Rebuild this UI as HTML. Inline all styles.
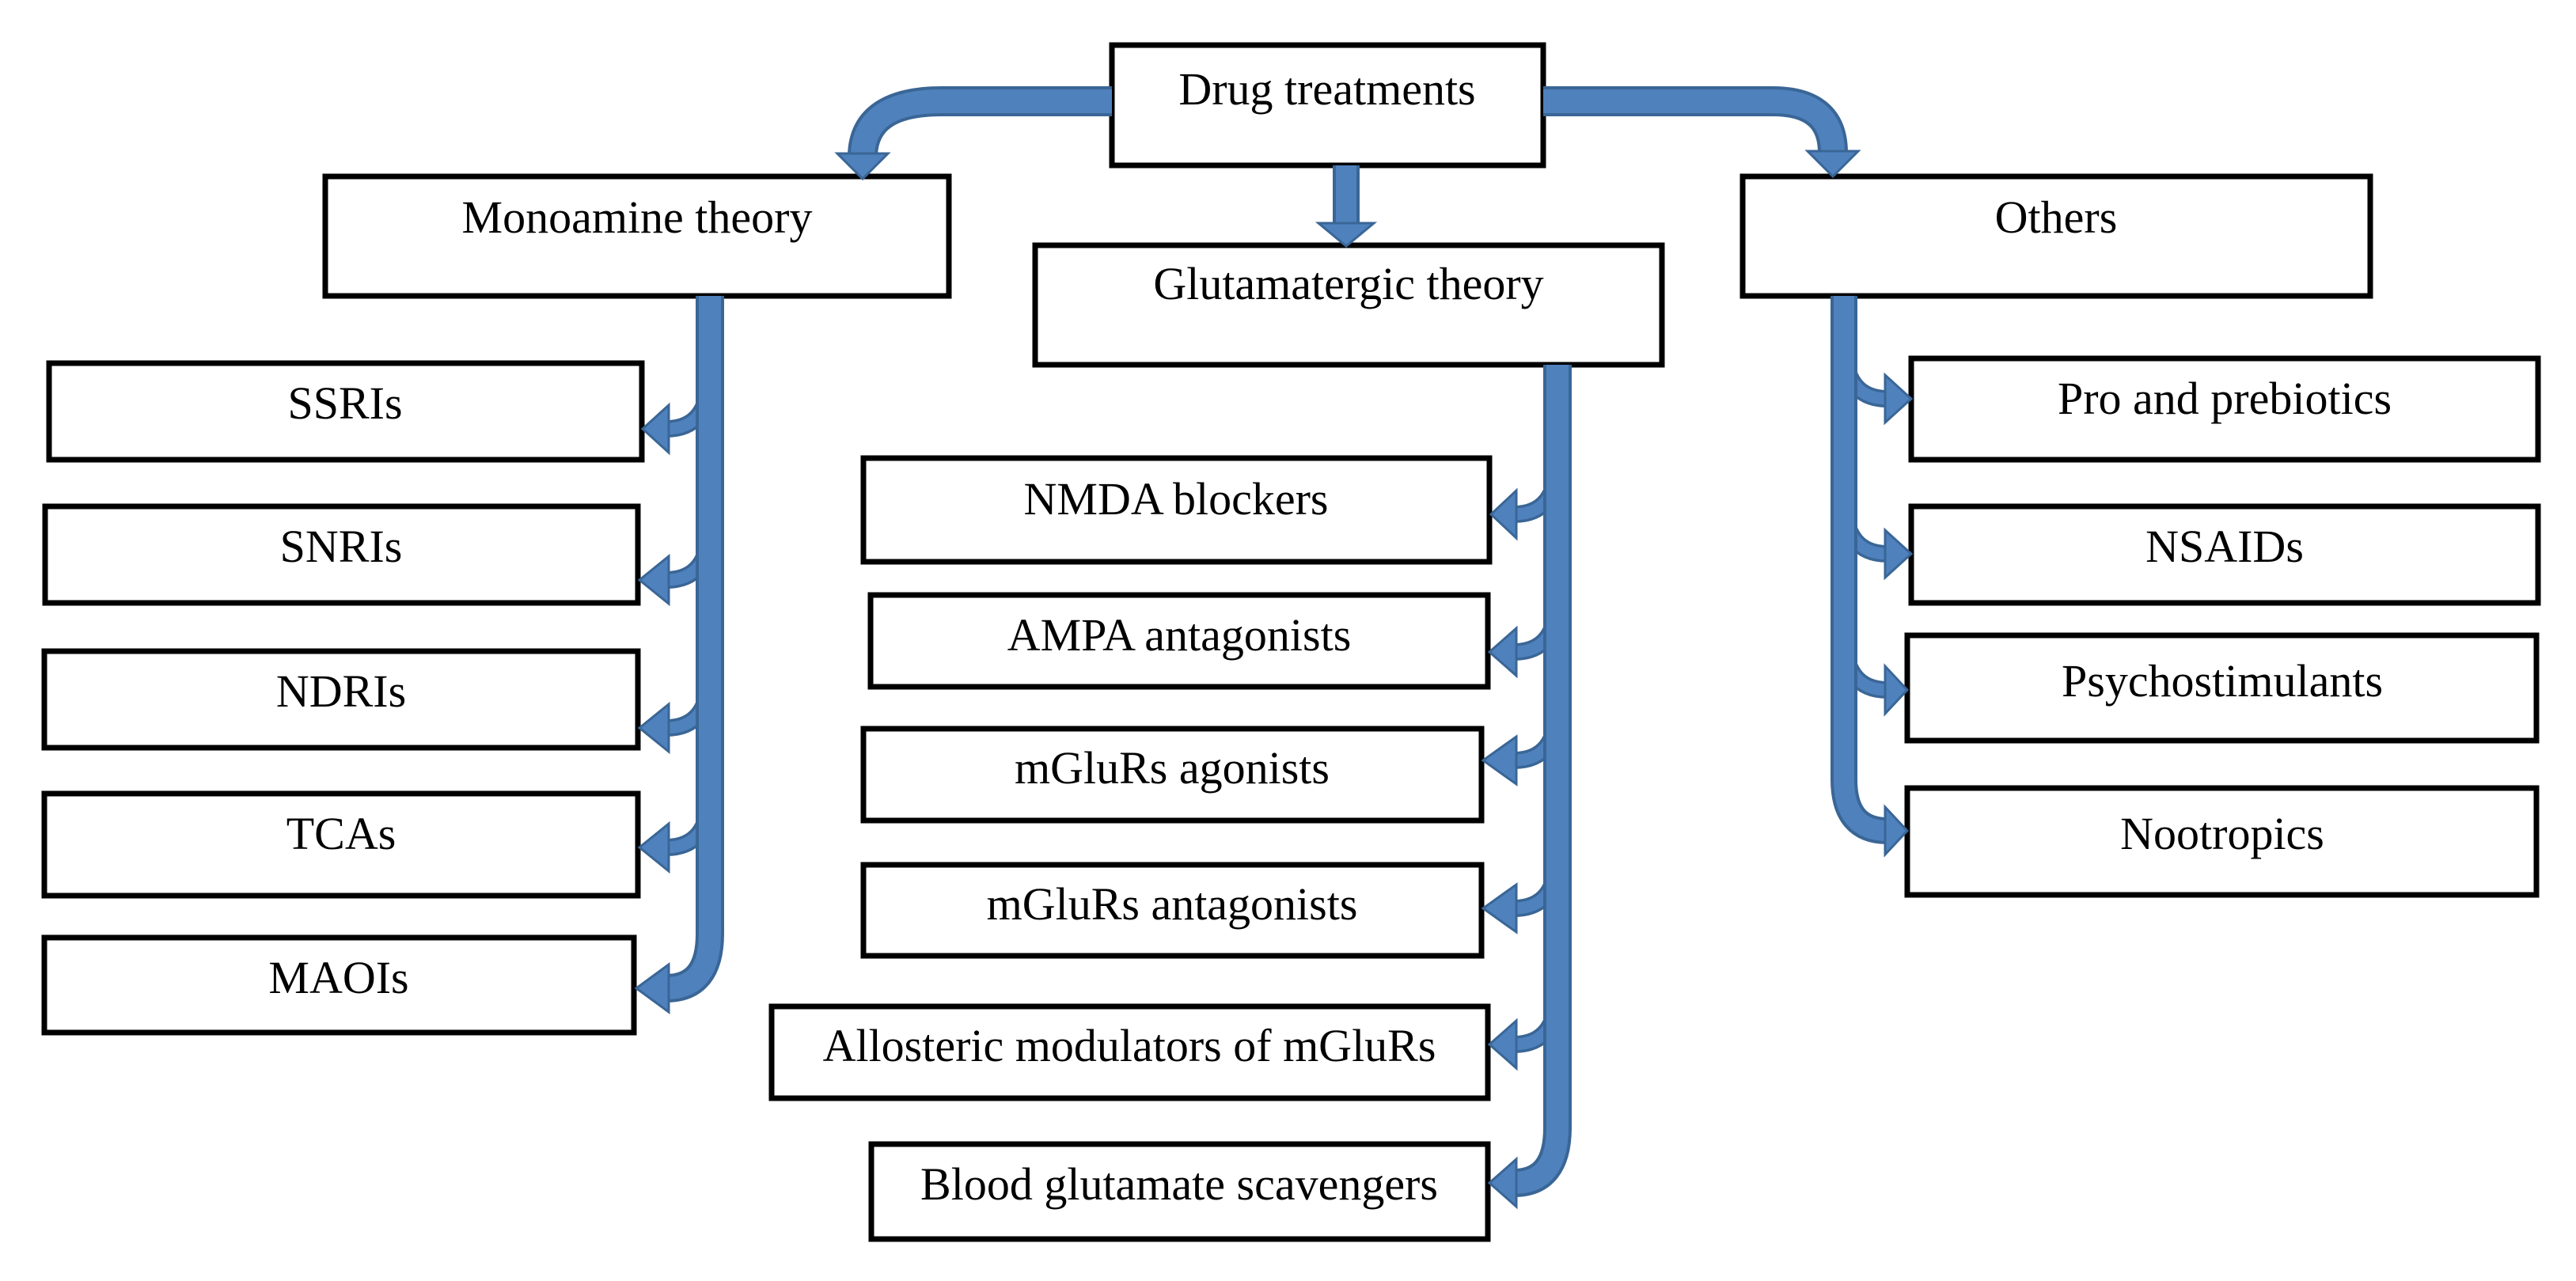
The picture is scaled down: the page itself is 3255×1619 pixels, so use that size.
<!DOCTYPE html>
<html><head><meta charset="utf-8"><style>
html,body{margin:0;padding:0;background:#fff;}
svg{display:block;}
text{font-family:"Liberation Serif",serif;font-size:58px;fill:#000;text-anchor:middle;}
</style></head><body>
<svg width="3255" height="1619" viewBox="0 0 3255 1619" xmlns="http://www.w3.org/2000/svg">
<g fill="#fff" stroke="#000" stroke-width="7">
<rect x="1405" y="57" width="545" height="152"/>
<rect x="411" y="223" width="788" height="151"/>
<rect x="1308" y="310" width="792" height="151"/>
<rect x="2202" y="223" width="793" height="151"/>
<rect x="62" y="459" width="749" height="122"/>
<rect x="57" y="640" width="749" height="122"/>
<rect x="56" y="823" width="750" height="122"/>
<rect x="56" y="1003" width="750" height="129"/>
<rect x="56" y="1185" width="745" height="120"/>
<rect x="1091" y="579" width="791" height="131"/>
<rect x="1100" y="752" width="780" height="116"/>
<rect x="1091" y="921" width="781" height="116"/>
<rect x="1091" y="1093" width="781" height="115"/>
<rect x="975" y="1272" width="905" height="116"/>
<rect x="1101" y="1446" width="779" height="120"/>
<rect x="2415" y="453" width="792" height="128"/>
<rect x="2415" y="640" width="792" height="122"/>
<rect x="2410" y="803" width="795" height="133"/>
<rect x="2410" y="996" width="795" height="135"/>
</g>
<g fill="none">
<path d="M1405 128 L1190 128 Q1092 128 1090 196" stroke="#3A6696" stroke-width="38"/>
<path d="M1405 128 L1190 128 Q1092 128 1090 196" stroke="#4F81BD" stroke-width="30"/>
<path d="M1950 128 L2240 128 Q2316 128 2316 193" stroke="#3A6696" stroke-width="38"/>
<path d="M1950 128 L2240 128 Q2316 128 2316 193" stroke="#4F81BD" stroke-width="30"/>
<path d="M1701 209 L1701 284" stroke="#3A6696" stroke-width="34"/>
<path d="M1701 209 L1701 284" stroke="#4F81BD" stroke-width="26"/>
<g stroke="#3A6696" stroke-width="22">
<path d="M897 470 Q897 542 842 542"/><path d="M897 662 Q897 733 842 733"/>
<path d="M897 848 Q897 920 842 920"/><path d="M897 1000 Q897 1071 842 1071"/>
</g>
<g stroke="#4F81BD" stroke-width="15">
<path d="M897 470 Q897 542 842 542"/><path d="M897 662 Q897 733 842 733"/>
<path d="M897 848 Q897 920 842 920"/><path d="M897 1000 Q897 1071 842 1071"/>
</g>
<path d="M897 374 L897 1180 Q897 1249 842 1249" stroke="#3A6696" stroke-width="36"/>
<path d="M897 374 L897 1180 Q897 1249 842 1249" stroke="#4F81BD" stroke-width="28"/>
<g stroke="#3A6696" stroke-width="22">
<path d="M1968 580 Q1968 650 1913 650"/><path d="M1968 754 Q1968 824 1913 824"/>
<path d="M1968 891 Q1968 961 1913 961"/><path d="M1968 1078 Q1968 1148 1913 1148"/>
<path d="M1968 1250 Q1968 1320 1913 1320"/>
</g>
<g stroke="#4F81BD" stroke-width="15">
<path d="M1968 580 Q1968 650 1913 650"/><path d="M1968 754 Q1968 824 1913 824"/>
<path d="M1968 891 Q1968 961 1913 961"/><path d="M1968 1078 Q1968 1148 1913 1148"/>
<path d="M1968 1250 Q1968 1320 1913 1320"/>
</g>
<path d="M1968 461 L1968 1425 Q1968 1495 1913 1495" stroke="#3A6696" stroke-width="36"/>
<path d="M1968 461 L1968 1425 Q1968 1495 1913 1495" stroke="#4F81BD" stroke-width="28"/>
<g stroke="#3A6696" stroke-width="22">
<path d="M2330 434 Q2330 504 2385 504"/><path d="M2330 630 Q2330 700 2385 700"/>
<path d="M2330 802 Q2330 872 2385 872"/>
</g>
<g stroke="#4F81BD" stroke-width="15">
<path d="M2330 434 Q2330 504 2385 504"/><path d="M2330 630 Q2330 700 2385 700"/>
<path d="M2330 802 Q2330 872 2385 872"/>
</g>
<path d="M2330 374 L2330 985 Q2330 1050 2385 1050" stroke="#3A6696" stroke-width="34"/>
<path d="M2330 374 L2330 985 Q2330 1050 2385 1050" stroke="#4F81BD" stroke-width="26"/>
</g>
<g fill="#4F81BD" stroke="#3A6696" stroke-width="3">
<polygon points="1058,194 1122,194 1090,226"/>
<polygon points="2284,191 2348,191 2316,223"/>
<polygon points="1666,282 1736,282 1701,311"/>
<polygon points="845,512 845,572 812,542"/>
<polygon points="845,703 845,763 808,733"/>
<polygon points="845,890 845,950 808,920"/>
<polygon points="845,1041 845,1101 808,1071"/>
<polygon points="845,1219 845,1279 804,1249"/>
<polygon points="1916,620 1916,680 1884,650"/>
<polygon points="1916,794 1916,854 1882,824"/>
<polygon points="1916,931 1916,991 1874,961"/>
<polygon points="1916,1118 1916,1178 1874,1148"/>
<polygon points="1916,1290 1916,1350 1882,1320"/>
<polygon points="1916,1465 1916,1525 1882,1495"/>
<polygon points="2382,474 2382,534 2415,504"/>
<polygon points="2382,670 2382,730 2415,700"/>
<polygon points="2382,842 2382,902 2410,872"/>
<polygon points="2382,1020 2382,1080 2410,1050"/>
</g>
<text x="1677" y="132">Drug treatments</text>
<text x="805" y="294">Monoamine theory</text>
<text x="1704" y="378">Glutamatergic theory</text>
<text x="2598" y="294">Others</text>
<text x="436" y="529">SSRIs</text>
<text x="431" y="710">SNRIs</text>
<text x="431" y="893">NDRIs</text>
<text x="431" y="1073">TCAs</text>
<text x="428" y="1255">MAOIs</text>
<text x="1486" y="650">NMDA blockers</text>
<text x="1490" y="822">AMPA antagonists</text>
<text x="1481" y="990">mGluRs agonists</text>
<text x="1481" y="1162">mGluRs antagonists</text>
<text x="1427" y="1341">Allosteric modulators of mGluRs</text>
<text x="1490" y="1516">Blood glutamate scavengers</text>
<text x="2811" y="523">Pro and prebiotics</text>
<text x="2811" y="710">NSAIDs</text>
<text x="2808" y="880">Psychostimulants</text>
<text x="2808" y="1073">Nootropics</text>
</svg>
</body></html>
